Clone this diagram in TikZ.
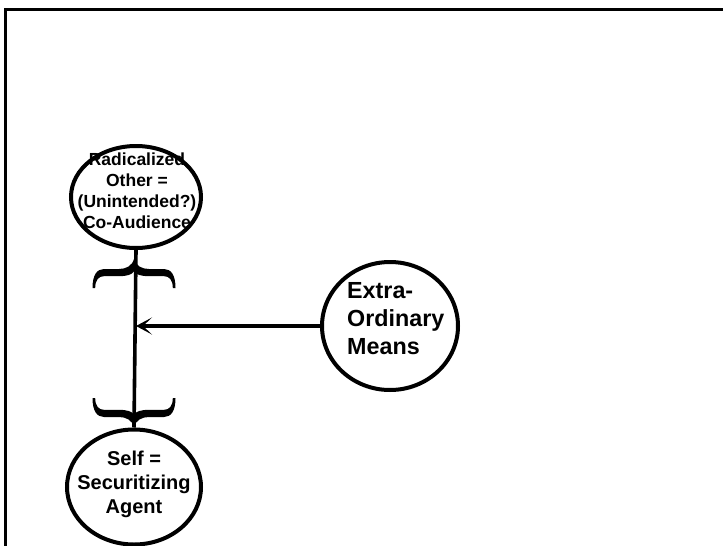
\documentclass[tikz,border=0pt]{standalone}
\usepackage{fontspec}
\setmainfont{Liberation Sans}
\usetikzlibrary{arrows.meta,shapes.geometric}
\begin{document}
\begin{tikzpicture}[x=1pt,y=-1pt,
  bubble/.style={draw,ellipse,line width=4pt,inner sep=0pt},
  words/.style={align=center,inner sep=0pt,font=\bfseries},
  conn/.style={line width=3.6pt},
  % one half of a typographic curly brace, tip at the origin
  halfbrace/.style={fill=black},
  curlybrace/.pic={
    \foreach \s in {1,-1}{
      \fill[halfbrace,xscale=\s] (0,0) .. controls (-2,7) and (-8,10) .. (-15,10)
        -- (-30,10) .. controls (-37,10) and (-41.5,16) .. (-41.5,29)
        -- (-38.8,29) .. controls (-38.8,20.5) and (-35,17.2) .. (-30,17.2)
        -- (-15,17.2) .. controls (-7,17.2) and (-2,15.5) .. (0,12.5) -- cycle;
    }
  }]
\useasboundingbox (0,0) rectangle (723,546);
% open frame: top and left edges
\draw[line width=3pt] (5.7,546) -- (5.7,9) -- (723,9);
% actors
\node[bubble,minimum width=130pt,minimum height=102pt] (other) at (136,197) {};
\node[words,font=\bfseries\fontsize{17.5}{21}\selectfont] (otherText) at (137,191)
  {Radicalized\\Other =\\(Unintended?)\\Co-Audience};
\node[bubble,minimum width=134pt,minimum height=115pt] (self) at (134,487) {};
\node[words,font=\bfseries\fontsize{20}{24}\selectfont] (selfText) at (134,484)
  {Self =\\Securitizing\\Agent};
\node[bubble,minimum width=136pt,minimum height=128pt] (means) at (390,326) {};
\node[words,align=left,anchor=west,font=\bfseries\fontsize{23.3}{28}\selectfont]
  (meansText) at (347,319) {Extra-\\Ordinary\\Means};
% braces around the link
\pic (upperBrace) at (134,259) {curlybrace};
\pic[yscale=-1] (lowerBrace) at (134,427) {curlybrace};
% connectors
\draw[conn] (other.south) -- (self.north);
\draw[conn,-{Stealth[length=16pt,width=17pt,inset=9pt]}] (means.west) -- (means.west -| other.south);
\end{tikzpicture}
\end{document}
